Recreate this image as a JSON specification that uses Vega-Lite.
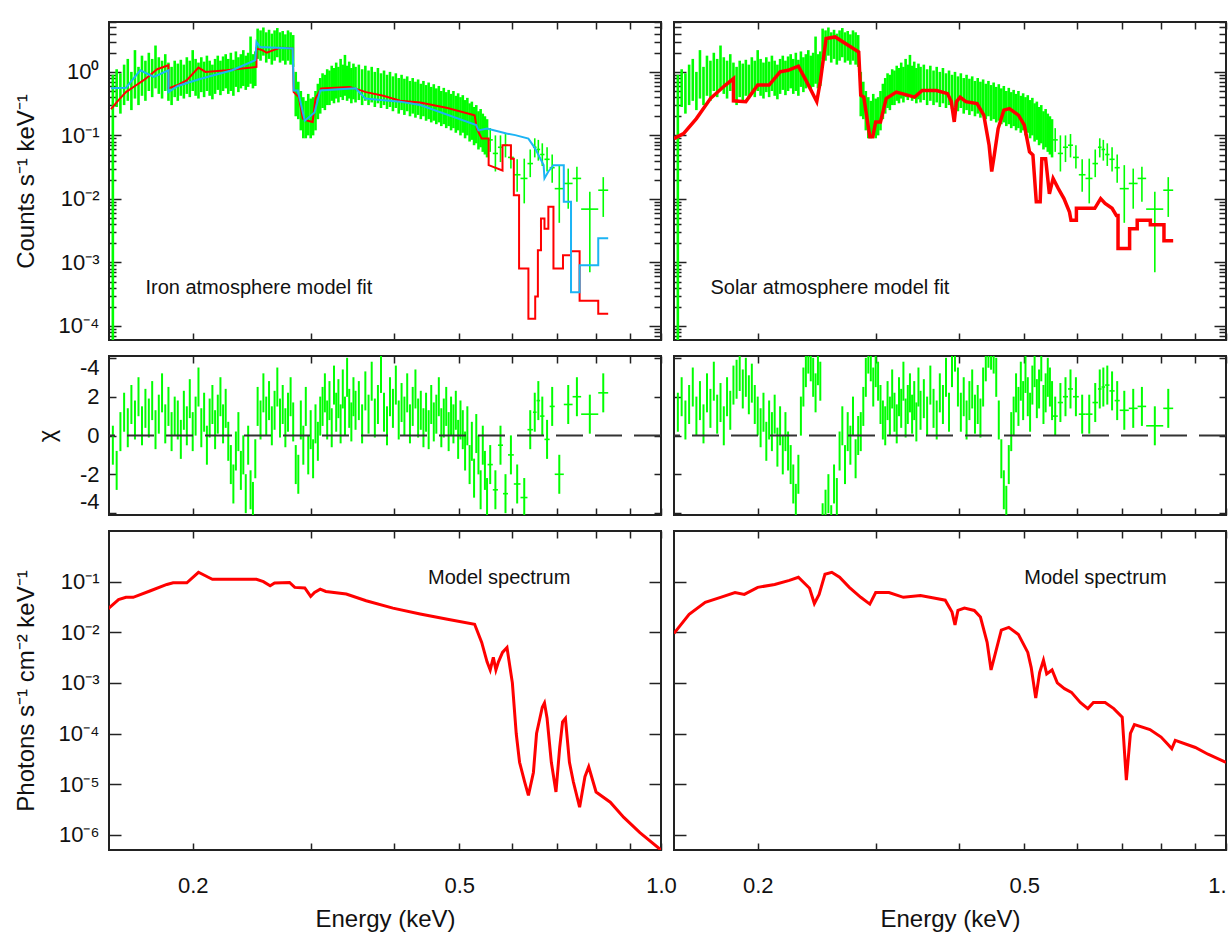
{
"$schema":"https://vega.github.io/schema/vega-lite/v6.json",
"background":"white",
"padding":{"left":13,"top":20,"right":4,"bottom":4},
"autosize":{"type":"pad"},
"columns":2,
"spacing":{"row":16,"column":13},
"bounds":"flush",
"config":{
 "view":{"stroke":"#222","strokeWidth":2},
 "axis":{"domain":false,"grid":false,"labelFont":"Liberation Sans","titleFont":"Liberation Sans","labelFontSize":22,"titleFontSize":24,"labelColor":"#111","titleColor":"#111","titleFontWeight":"normal","tickColor":"#222","tickWidth":1.5,"labelOverlap":false},
 "scale":{"zero":false},
 "text":{"font":"Liberation Sans"}
},
"datasets":{
"obs":[
{"e":0.152,"c":0.3,"lo":0.00005,"hi":0.9,"ri":-0.5,"rs":1.2},
{"e":0.154,"c":0.55,"lo":0.28,"hi":1.1,"ri":-1.8,"rs":2.0},
{"e":0.156,"c":0.48,"lo":0.22,"hi":0.95,"ri":0.2,"rs":0.8},
{"e":0.158,"c":0.62,"lo":0.3,"hi":1.3,"ri":1.2,"rs":1.6},
{"e":0.160,"c":0.7,"lo":0.35,"hi":1.6,"ri":0.4,"rs":2.5},
{"e":0.162,"c":0.52,"lo":0.25,"hi":1.0,"ri":1.6,"rs":1.0},
{"e":0.164,"c":0.75,"lo":0.38,"hi":2.2,"ri":0.8,"rs":1.8},
{"e":0.166,"c":0.6,"lo":0.3,"hi":1.2,"ri":2.0,"rs":0.6},
{"e":0.168,"c":0.85,"lo":0.42,"hi":1.8,"ri":0.5,"rs":2.2},
{"e":0.170,"c":0.7,"lo":0.35,"hi":1.5,"ri":1.4,"rs":1.4},
{"e":0.172,"c":0.95,"lo":0.5,"hi":2.0,"ri":0.9,"rs":2.8},
{"e":0.174,"c":0.8,"lo":0.4,"hi":1.6,"ri":1.8,"rs":1.1},
{"e":0.176,"c":1.0,"lo":0.55,"hi":2.6,"ri":0.3,"rs":1.7},
{"e":0.178,"c":0.85,"lo":0.45,"hi":1.7,"ri":1.1,"rs":0.5},
{"e":0.180,"c":0.75,"lo":0.38,"hi":1.5,"ri":2.2,"rs":2.0},
{"e":0.182,"c":0.95,"lo":0.5,"hi":1.9,"ri":0.6,"rs":1.3},
{"e":0.184,"c":0.7,"lo":0.35,"hi":1.4,"ri":1.5,"rs":2.6},
{"e":0.186,"c":0.6,"lo":0.3,"hi":1.2,"ri":0.2,"rs":2.9},
{"e":0.188,"c":0.75,"lo":0.4,"hi":1.5,"ri":1.0,"rs":3.3},
{"e":0.190,"c":0.68,"lo":0.35,"hi":1.35,"ri":0.8,"rs":2.4},
{"e":0.192,"c":0.8,"lo":0.42,"hi":1.55,"ri":-0.2,"rs":3.0},
{"e":0.194,"c":0.7,"lo":0.38,"hi":1.3,"ri":1.3,"rs":2.1},
{"e":0.196,"c":0.85,"lo":0.45,"hi":1.7,"ri":0.5,"rs":2.7},
{"e":0.198,"c":0.78,"lo":0.4,"hi":1.5,"ri":1.9,"rs":1.6},
{"e":0.200,"c":0.95,"lo":0.5,"hi":2.2,"ri":0.2,"rs":1.0},
{"e":0.202,"c":0.8,"lo":0.42,"hi":1.6,"ri":1.0,"rs":0.4},
{"e":0.204,"c":0.72,"lo":0.38,"hi":1.4,"ri":2.5,"rs":1.2},
{"e":0.206,"c":0.88,"lo":0.48,"hi":1.7,"ri":0.4,"rs":-0.3},
{"e":0.208,"c":0.75,"lo":0.4,"hi":1.45,"ri":1.2,"rs":0.8},
{"e":0.210,"c":0.9,"lo":0.5,"hi":1.8,"ri":-0.5,"rs":0.2},
{"e":0.212,"c":0.8,"lo":0.42,"hi":1.5,"ri":0.9,"rs":1.1},
{"e":0.214,"c":0.7,"lo":0.37,"hi":1.3,"ri":1.6,"rs":-0.6},
{"e":0.216,"c":0.85,"lo":0.45,"hi":1.6,"ri":0.3,"rs":0.5},
{"e":0.218,"c":0.95,"lo":0.52,"hi":1.8,"ri":1.1,"rs":-1.0},
{"e":0.220,"c":0.8,"lo":0.43,"hi":1.5,"ri":2.0,"rs":0.2},
{"e":0.222,"c":0.9,"lo":0.5,"hi":1.75,"ri":0.6,"rs":-0.8},
{"e":0.224,"c":1.0,"lo":0.55,"hi":1.9,"ri":1.4,"rs":-1.5},
{"e":0.226,"c":0.85,"lo":0.45,"hi":1.6,"ri":-0.3,"rs":-2.5},
{"e":0.228,"c":0.95,"lo":0.5,"hi":2.0,"ri":-1.5,"rs":-3.5},
{"e":0.230,"c":0.8,"lo":0.42,"hi":1.55,"ri":-2.5,"rs":-2.0},
{"e":0.232,"c":1.05,"lo":0.58,"hi":2.1,"ri":-0.8,"rs":1.0},
{"e":0.234,"c":0.9,"lo":0.48,"hi":1.7,"ri":0.2,"rs":2.5},
{"e":0.236,"c":1.0,"lo":0.55,"hi":1.9,"ri":-1.8,"rs":3.5},
{"e":0.238,"c":1.1,"lo":0.6,"hi":2.2,"ri":-1.0,"rs":4.2},
{"e":0.240,"c":0.95,"lo":0.52,"hi":1.8,"ri":-3.0,"rs":3.8},
{"e":0.242,"c":1.05,"lo":0.58,"hi":2.0,"ri":-0.5,"rs":3.0},
{"e":0.244,"c":1.2,"lo":0.65,"hi":3.6,"ri":-2.8,"rs":2.2},
{"e":0.246,"c":1.0,"lo":0.55,"hi":1.9,"ri":-3.4,"rs":3.6},
{"e":0.248,"c":1.1,"lo":0.6,"hi":2.1,"ri":-1.2,"rs":2.8},
{"e":0.250,"c":2.8,"lo":1.6,"hi":4.8,"ri":1.5,"rs":-4.5},
{"e":0.2525,"c":2.6,"lo":1.5,"hi":4.5,"ri":0.8,"rs":-3.8},
{"e":0.255,"c":3.0,"lo":1.8,"hi":5.0,"ri":2.2,"rs":-3.0},
{"e":0.2575,"c":2.5,"lo":1.4,"hi":4.2,"ri":1.0,"rs":-4.6},
{"e":0.26,"c":2.8,"lo":1.6,"hi":4.6,"ri":1.8,"rs":-2.5},
{"e":0.2625,"c":2.4,"lo":1.3,"hi":4.0,"ri":0.5,"rs":-3.2},
{"e":0.265,"c":2.7,"lo":1.5,"hi":4.5,"ri":1.3,"rs":-0.8},
{"e":0.2675,"c":3.0,"lo":1.7,"hi":4.9,"ri":2.5,"rs":0.5},
{"e":0.27,"c":2.5,"lo":1.4,"hi":4.2,"ri":0.9,"rs":-1.5},
{"e":0.2725,"c":2.6,"lo":1.5,"hi":4.4,"ri":1.6,"rs":0.2},
{"e":0.275,"c":2.3,"lo":1.3,"hi":3.9,"ri":0.4,"rs":-0.5},
{"e":0.2775,"c":2.7,"lo":1.5,"hi":4.5,"ri":1.2,"rs":1.0},
{"e":0.28,"c":2.4,"lo":1.3,"hi":4.2,"ri":2.0,"rs":-1.2},
{"e":0.2825,"c":2.2,"lo":1.2,"hi":3.8,"ri":0.7,"rs":0.0},
{"e":0.285,"c":0.45,"lo":0.2,"hi":1.0,"ri":-1.5,"rs":0.2},
{"e":0.2875,"c":0.35,"lo":0.18,"hi":0.7,"ri":-2.0,"rs":1.5},
{"e":0.29,"c":0.25,"lo":0.12,"hi":0.5,"ri":0.8,"rs":3.0},
{"e":0.2925,"c":0.2,"lo":0.09,"hi":0.4,"ri":-0.5,"rs":4.2},
{"e":0.295,"c":0.18,"lo":0.09,"hi":0.35,"ri":1.5,"rs":3.8},
{"e":0.2975,"c":0.22,"lo":0.1,"hi":0.45,"ri":-1.0,"rs":2.5},
{"e":0.30,"c":0.19,"lo":0.09,"hi":0.38,"ri":0.3,"rs":3.5},
{"e":0.3025,"c":0.2,"lo":0.1,"hi":0.4,"ri":-1.2,"rs":2.8},
{"e":0.305,"c":0.25,"lo":0.12,"hi":0.5,"ri":0.6,"rs":1.6},
{"e":0.3075,"c":0.35,"lo":0.18,"hi":0.65,"ri":-0.3,"rs":0.8},
{"e":0.31,"c":0.42,"lo":0.22,"hi":0.8,"ri":1.0,"rs":0.5},
{"e":0.3125,"c":0.5,"lo":0.27,"hi":0.95,"ri":1.5,"rs":1.8},
{"e":0.315,"c":0.48,"lo":0.25,"hi":0.9,"ri":2.2,"rs":1.0},
{"e":0.3175,"c":0.58,"lo":0.3,"hi":1.1,"ri":0.8,"rs":2.4},
{"e":0.32,"c":0.55,"lo":0.3,"hi":1.05,"ri":1.8,"rs":1.2},
{"e":0.3225,"c":0.65,"lo":0.35,"hi":1.25,"ri":0.4,"rs":0.6},
{"e":0.325,"c":0.6,"lo":0.32,"hi":1.15,"ri":2.6,"rs":2.0},
{"e":0.3275,"c":0.7,"lo":0.38,"hi":1.4,"ri":1.2,"rs":1.4},
{"e":0.33,"c":0.62,"lo":0.33,"hi":1.2,"ri":1.9,"rs":2.8},
{"e":0.3325,"c":0.75,"lo":0.4,"hi":1.6,"ri":0.6,"rs":0.9},
{"e":0.335,"c":0.68,"lo":0.36,"hi":1.3,"ri":2.4,"rs":1.6},
{"e":0.3375,"c":0.8,"lo":0.42,"hi":1.85,"ri":1.0,"rs":2.2},
{"e":0.34,"c":0.65,"lo":0.35,"hi":1.25,"ri":3.0,"rs":1.1},
{"e":0.3425,"c":0.72,"lo":0.38,"hi":1.45,"ri":1.4,"rs":1.8},
{"e":0.345,"c":0.6,"lo":0.32,"hi":1.15,"ri":0.7,"rs":0.7},
{"e":0.3475,"c":0.7,"lo":0.37,"hi":1.35,"ri":2.0,"rs":2.5},
{"e":0.35,"c":0.62,"lo":0.33,"hi":1.2,"ri":1.3,"rs":1.3},
{"e":0.354,"c":0.68,"lo":0.36,"hi":1.3,"ri":1.8,"rs":1.9},
{"e":0.358,"c":0.58,"lo":0.3,"hi":1.1,"ri":0.6,"rs":1.0},
{"e":0.362,"c":0.65,"lo":0.35,"hi":1.25,"ri":2.3,"rs":2.6},
{"e":0.366,"c":0.55,"lo":0.3,"hi":1.05,"ri":1.1,"rs":1.4},
{"e":0.370,"c":0.62,"lo":0.33,"hi":1.2,"ri":2.8,"rs":0.8},
{"e":0.374,"c":0.52,"lo":0.28,"hi":1.0,"ri":0.9,"rs":2.2},
{"e":0.378,"c":0.6,"lo":0.32,"hi":1.15,"ri":1.6,"rs":1.6},
{"e":0.382,"c":0.5,"lo":0.27,"hi":0.95,"ri":3.2,"rs":3.0},
{"e":0.386,"c":0.56,"lo":0.3,"hi":1.05,"ri":1.2,"rs":1.2},
{"e":0.390,"c":0.48,"lo":0.26,"hi":0.9,"ri":0.5,"rs":3.5},
{"e":0.394,"c":0.53,"lo":0.28,"hi":1.0,"ri":2.0,"rs":4.3},
{"e":0.398,"c":0.45,"lo":0.24,"hi":0.85,"ri":1.4,"rs":2.5},
{"e":0.402,"c":0.5,"lo":0.27,"hi":0.95,"ri":2.6,"rs":1.2},
{"e":0.406,"c":0.42,"lo":0.22,"hi":0.8,"ri":0.8,"rs":2.0},
{"e":0.410,"c":0.48,"lo":0.25,"hi":0.9,"ri":1.7,"rs":0.8},
{"e":0.414,"c":0.4,"lo":0.21,"hi":0.78,"ri":1.0,"rs":1.8},
{"e":0.418,"c":0.45,"lo":0.24,"hi":0.85,"ri":2.2,"rs":2.4},
{"e":0.422,"c":0.38,"lo":0.2,"hi":0.72,"ri":0.6,"rs":1.1},
{"e":0.426,"c":0.42,"lo":0.22,"hi":0.8,"ri":1.5,"rs":1.6},
{"e":0.430,"c":0.36,"lo":0.19,"hi":0.7,"ri":2.4,"rs":0.9},
{"e":0.434,"c":0.4,"lo":0.21,"hi":0.76,"ri":0.9,"rs":2.5},
{"e":0.438,"c":0.34,"lo":0.18,"hi":0.65,"ri":1.3,"rs":3.8},
{"e":0.442,"c":0.38,"lo":0.2,"hi":0.72,"ri":0.4,"rs":4.5},
{"e":0.446,"c":0.32,"lo":0.17,"hi":0.62,"ri":1.2,"rs":4.4},
{"e":0.450,"c":0.35,"lo":0.18,"hi":0.68,"ri":0.3,"rs":4.2},
{"e":0.454,"c":0.3,"lo":0.16,"hi":0.58,"ri":1.6,"rs":3.0},
{"e":0.458,"c":0.33,"lo":0.17,"hi":0.64,"ri":0.7,"rs":0.8},
{"e":0.462,"c":0.28,"lo":0.15,"hi":0.55,"ri":1.1,"rs":-1.2},
{"e":0.466,"c":0.31,"lo":0.16,"hi":0.6,"ri":2.0,"rs":-2.8},
{"e":0.470,"c":0.26,"lo":0.14,"hi":0.5,"ri":0.4,"rs":-3.6},
{"e":0.474,"c":0.29,"lo":0.15,"hi":0.56,"ri":0.9,"rs":-1.5},
{"e":0.478,"c":0.25,"lo":0.13,"hi":0.48,"ri":1.5,"rs":0.2},
{"e":0.482,"c":0.27,"lo":0.14,"hi":0.52,"ri":0.2,"rs":1.0},
{"e":0.486,"c":0.23,"lo":0.12,"hi":0.45,"ri":1.0,"rs":2.2},
{"e":0.490,"c":0.26,"lo":0.13,"hi":0.5,"ri":0.6,"rs":1.5},
{"e":0.494,"c":0.21,"lo":0.11,"hi":0.42,"ri":1.3,"rs":2.8},
{"e":0.498,"c":0.24,"lo":0.12,"hi":0.46,"ri":-0.2,"rs":1.8},
{"e":0.502,"c":0.2,"lo":0.1,"hi":0.4,"ri":0.8,"rs":3.2},
{"e":0.506,"c":0.22,"lo":0.11,"hi":0.43,"ri":0.3,"rs":2.0},
{"e":0.510,"c":0.18,"lo":0.09,"hi":0.36,"ri":-0.8,"rs":1.2},
{"e":0.514,"c":0.2,"lo":0.1,"hi":0.39,"ri":0.5,"rs":2.6},
{"e":0.518,"c":0.16,"lo":0.08,"hi":0.32,"ri":-1.5,"rs":3.5},
{"e":0.522,"c":0.17,"lo":0.085,"hi":0.34,"ri":-0.3,"rs":1.9},
{"e":0.526,"c":0.14,"lo":0.07,"hi":0.28,"ri":-2.2,"rs":2.4},
{"e":0.530,"c":0.15,"lo":0.075,"hi":0.3,"ri":0.1,"rs":3.8},
{"e":0.534,"c":0.12,"lo":0.06,"hi":0.24,"ri":-1.0,"rs":1.6},
{"e":0.538,"c":0.13,"lo":0.065,"hi":0.26,"ri":-2.8,"rs":2.2},
{"e":0.542,"c":0.11,"lo":0.055,"hi":0.22,"ri":-0.5,"rs":3.0},
{"e":0.546,"c":0.1,"lo":0.05,"hi":0.2,"ri":-1.8,"rs":2.5},
{"e":0.550,"c":0.09,"lo":0.045,"hi":0.18,"ri":-3.2,"rs":1.8},
{"e":0.556,"e0":0.551,"e1":0.561,"c":0.085,"lo":0.055,"hi":0.13,"ri":-1.5,"rs":1.0},
{"e":0.566,"e0":0.561,"e1":0.571,"c":0.052,"lo":0.027,"hi":0.10,"ri":-2.8,"rs":1.7},
{"e":0.576,"e0":0.571,"e1":0.581,"c":0.065,"lo":0.038,"hi":0.10,"ri":-0.5,"rs":2.0},
{"e":0.586,"e0":0.581,"e1":0.591,"c":0.07,"lo":0.045,"hi":0.105,"ri":-3.0,"rs":2.4},
{"e":0.597,"e0":0.591,"e1":0.603,"c":0.045,"lo":0.03,"hi":0.07,"ri":-1.0,"rs":2.0},
{"e":0.610,"e0":0.603,"e1":0.617,"c":0.024,"lo":0.013,"hi":0.042,"ri":-2.5,"rs":1.1},
{"e":0.625,"e0":0.617,"e1":0.632,"c":0.021,"lo":0.0085,"hi":0.043,"ri":-3.2,"rs":1.1},
{"e":0.638,"e0":0.632,"e1":0.644,"c":0.036,"lo":0.022,"hi":0.06,"ri":0.3,"rs":1.7},
{"e":0.648,"e0":0.644,"e1":0.652,"c":0.065,"lo":0.045,"hi":0.09,"ri":1.2,"rs":2.4},
{"e":0.656,"e0":0.652,"e1":0.660,"c":0.06,"lo":0.04,"hi":0.085,"ri":1.8,"rs":2.5},
{"e":0.665,"e0":0.660,"e1":0.670,"c":0.05,"lo":0.033,"hi":0.075,"ri":1.0,"rs":2.6},
{"e":0.676,"e0":0.670,"e1":0.682,"c":0.042,"lo":0.027,"hi":0.065,"ri":-0.2,"rs":2.3},
{"e":0.688,"e0":0.682,"e1":0.694,"c":0.031,"lo":0.018,"hi":0.05,"ri":1.5,"rs":1.8},
{"e":0.705,"e0":0.694,"e1":0.716,"c":0.0145,"lo":0.0042,"hi":0.034,"ri":-2.0,"rs":1.3},
{"e":0.727,"e0":0.716,"e1":0.738,"c":0.0175,"lo":0.007,"hi":0.03,"ri":1.6,"rs":1.4},
{"e":0.749,"e0":0.738,"e1":0.760,"c":0.021,"lo":0.009,"hi":0.032,"ri":2.0,"rs":1.5},
{"e":0.783,"e0":0.760,"e1":0.806,"c":0.0069,"lo":0.0007,"hi":0.0129,"ri":1.1,"rs":0.5},
{"e":0.820,"e0":0.806,"e1":0.834,"c":0.0137,"lo":0.0052,"hi":0.022,"ri":2.2,"rs":1.4}
],
"fe":[
{"e":0.151,"v":0.26},{"e":0.155,"v":0.36},{"e":0.159,"v":0.48},{"e":0.164,"v":0.6},{"e":0.169,"v":0.74},{"e":0.173,"v":0.9},{"e":0.177,"v":1.1},{"e":0.184,"v":1.27},{"e":0.184,"v":0.55},{"e":0.19,"v":0.62},{"e":0.196,"v":0.74},{"e":0.204,"v":1.17},{"e":0.209,"v":1.0},{"e":0.225,"v":1.06},{"e":0.249,"v":1.2},{"e":0.249,"v":2.33},{"e":0.254,"v":2.2},{"e":0.258,"v":2.0},{"e":0.264,"v":2.2},{"e":0.27,"v":2.4},{"e":0.282,"v":2.33},{"e":0.283,"v":0.48},{"e":0.288,"v":0.4},{"e":0.292,"v":0.184},{"e":0.297,"v":0.17},{"e":0.302,"v":0.163},{"e":0.305,"v":0.38},{"e":0.311,"v":0.55},{"e":0.343,"v":0.58},{"e":0.363,"v":0.48},{"e":0.385,"v":0.42},{"e":0.408,"v":0.35},{"e":0.437,"v":0.33},{"e":0.48,"v":0.27},{"e":0.527,"v":0.208},{"e":0.531,"v":0.128},{"e":0.54,"v":0.089},{"e":0.553,"v":0.089},{"e":0.553,"v":0.034},{"e":0.58,"v":0.028},{"e":0.58,"v":0.07},{"e":0.597,"v":0.07},{"e":0.597,"v":0.043},{"e":0.603,"v":0.043},{"e":0.603,"v":0.0114},{"e":0.614,"v":0.0114},{"e":0.614,"v":0.0008},{"e":0.634,"v":0.0008},{"e":0.634,"v":0.00013},{"e":0.649,"v":0.00013},{"e":0.649,"v":0.00029},{"e":0.655,"v":0.00029},{"e":0.655,"v":0.00156},{"e":0.662,"v":0.00156},{"e":0.662,"v":0.0049},{"e":0.67,"v":0.0049},{"e":0.67,"v":0.0034},{"e":0.679,"v":0.0034},{"e":0.679,"v":0.0075},{"e":0.691,"v":0.0075},{"e":0.691,"v":0.0008},{"e":0.714,"v":0.0008},{"e":0.714,"v":0.0013},{"e":0.734,"v":0.0013},{"e":0.734,"v":0.0015},{"e":0.756,"v":0.0015},{"e":0.756,"v":0.00025},{"e":0.806,"v":0.00025},{"e":0.806,"v":0.000156},{"e":0.834,"v":0.000156}
],
"fe2":[
{"e":0.151,"v":0.55},{"e":0.159,"v":0.56},{"e":0.167,"v":1.06},{"e":0.175,"v":0.83},{"e":0.184,"v":1.06},{"e":0.184,"v":0.48},{"e":0.19,"v":0.6},{"e":0.205,"v":0.77},{"e":0.229,"v":1.06},{"e":0.248,"v":1.53},{"e":0.249,"v":2.97},{"e":0.252,"v":2.47},{"e":0.282,"v":2.33},{"e":0.283,"v":0.51},{"e":0.287,"v":0.51},{"e":0.294,"v":0.17},{"e":0.304,"v":0.23},{"e":0.31,"v":0.51},{"e":0.35,"v":0.55},{"e":0.362,"v":0.38},{"e":0.408,"v":0.34},{"e":0.437,"v":0.3},{"e":0.53,"v":0.145},{"e":0.534,"v":0.12},{"e":0.55,"v":0.128},{"e":0.588,"v":0.107},{"e":0.606,"v":0.101},{"e":0.634,"v":0.089},{"e":0.649,"v":0.062},{"e":0.668,"v":0.034},{"e":0.67,"v":0.021},{"e":0.679,"v":0.027},{"e":0.691,"v":0.034},{"e":0.716,"v":0.034},{"e":0.716,"v":0.009},{"e":0.734,"v":0.009},{"e":0.734,"v":0.00034},{"e":0.756,"v":0.00034},{"e":0.756,"v":0.0009},{"e":0.806,"v":0.0009},{"e":0.806,"v":0.0024},{"e":0.834,"v":0.0024}
],
"sun":[
{"e":0.150,"v":0.089},{"e":0.155,"v":0.107},{"e":0.162,"v":0.184},{"e":0.170,"v":0.38},{"e":0.179,"v":0.62},{"e":0.184,"v":0.785},{"e":0.184,"v":0.35},{"e":0.192,"v":0.34},{"e":0.2,"v":0.62},{"e":0.208,"v":0.62},{"e":0.216,"v":1.0},{"e":0.222,"v":1.06},{"e":0.23,"v":1.23},{"e":0.236,"v":0.74},{"e":0.245,"v":0.34},{"e":0.248,"v":0.70},{"e":0.253,"v":3.35},{"e":0.261,"v":3.55},{"e":0.283,"v":2.06},{"e":0.285,"v":0.43},{"e":0.288,"v":0.4},{"e":0.294,"v":0.095},{"e":0.297,"v":0.095},{"e":0.3,"v":0.163},{"e":0.305,"v":0.163},{"e":0.311,"v":0.38},{"e":0.322,"v":0.48},{"e":0.343,"v":0.40},{"e":0.352,"v":0.51},{"e":0.37,"v":0.51},{"e":0.384,"v":0.455},{"e":0.389,"v":0.34},{"e":0.393,"v":0.163},{"e":0.396,"v":0.34},{"e":0.401,"v":0.4},{"e":0.409,"v":0.34},{"e":0.425,"v":0.317},{"e":0.435,"v":0.208},{"e":0.443,"v":0.07},{"e":0.447,"v":0.027},{"e":0.451,"v":0.049},{"e":0.457,"v":0.128},{"e":0.466,"v":0.25},{"e":0.475,"v":0.264},{"e":0.49,"v":0.208},{"e":0.5,"v":0.145},{"e":0.509,"v":0.055},{"e":0.515,"v":0.049},{"e":0.521,"v":0.009},{"e":0.528,"v":0.009},{"e":0.531,"v":0.043},{"e":0.538,"v":0.043},{"e":0.545,"v":0.012},{"e":0.552,"v":0.021},{"e":0.562,"v":0.0145},{"e":0.573,"v":0.0101},{"e":0.584,"v":0.0062},{"e":0.587,"v":0.0046},{"e":0.598,"v":0.0046},{"e":0.598,"v":0.0071},{"e":0.637,"v":0.0071},{"e":0.65,"v":0.0101},{"e":0.66,"v":0.0085},{"e":0.676,"v":0.0071},{"e":0.686,"v":0.0055},{"e":0.69,"v":0.0055},{"e":0.69,"v":0.00165},{"e":0.718,"v":0.00165},{"e":0.718,"v":0.0034},{"e":0.737,"v":0.0034},{"e":0.737,"v":0.0046},{"e":0.771,"v":0.0046},{"e":0.771,"v":0.0039},{"e":0.808,"v":0.0039},{"e":0.808,"v":0.0022},{"e":0.834,"v":0.0022}
],
"mfe":[
{"e":0.149,"v":0.028},{"e":0.155,"v":0.044},{"e":0.159,"v":0.049},{"e":0.163,"v":0.049},{"e":0.173,"v":0.066},{"e":0.183,"v":0.088},{"e":0.187,"v":0.095},{"e":0.196,"v":0.095},{"e":0.204,"v":0.153},{"e":0.211,"v":0.122},{"e":0.214,"v":0.111},{"e":0.249,"v":0.111},{"e":0.255,"v":0.1},{"e":0.261,"v":0.083},{"e":0.265,"v":0.094},{"e":0.279,"v":0.096},{"e":0.284,"v":0.077},{"e":0.294,"v":0.075},{"e":0.3,"v":0.051},{"e":0.304,"v":0.061},{"e":0.31,"v":0.071},{"e":0.316,"v":0.064},{"e":0.339,"v":0.057},{"e":0.363,"v":0.042},{"e":0.398,"v":0.030},{"e":0.437,"v":0.023},{"e":0.48,"v":0.018},{"e":0.527,"v":0.0144},{"e":0.54,"v":0.0063},{"e":0.55,"v":0.0026},{"e":0.556,"v":0.0018},{"e":0.562,"v":0.0032},{"e":0.567,"v":0.0018},{"e":0.572,"v":0.0026},{"e":0.58,"v":0.004},{"e":0.589,"v":0.005},{"e":0.6,"v":0.001},{"e":0.608,"v":0.0001},{"e":0.615,"v":0.000027},{"e":0.626,"v":0.000011},{"e":0.634,"v":0.000006},{"e":0.645,"v":0.000017},{"e":0.652,"v":0.0001},{"e":0.665,"v":0.00033},{"e":0.67,"v":0.0004},{"e":0.676,"v":0.0002},{"e":0.686,"v":0.000027},{"e":0.697,"v":0.000007},{"e":0.706,"v":0.000053},{"e":0.713,"v":0.00017},{"e":0.72,"v":0.0002},{"e":0.73,"v":0.000027},{"e":0.74,"v":0.000011},{"e":0.756,"v":0.0000035},{"e":0.77,"v":0.000014},{"e":0.78,"v":0.000022},{"e":0.8,"v":0.000007},{"e":0.84,"v":0.0000044},{"e":0.88,"v":0.0000022},{"e":0.93,"v":0.0000011},{"e":1.0,"v":0.0000005}
],
"msun":[
{"e":0.150,"v":0.0095},{"e":0.158,"v":0.0225},{"e":0.167,"v":0.039},{"e":0.176,"v":0.049},{"e":0.185,"v":0.061},{"e":0.191,"v":0.056},{"e":0.2,"v":0.077},{"e":0.212,"v":0.088},{"e":0.223,"v":0.106},{"e":0.23,"v":0.122},{"e":0.239,"v":0.074},{"e":0.243,"v":0.037},{"e":0.247,"v":0.056},{"e":0.252,"v":0.14},{"e":0.258,"v":0.153},{"e":0.265,"v":0.122},{"e":0.274,"v":0.077},{"e":0.285,"v":0.049},{"e":0.294,"v":0.036},{"e":0.3,"v":0.061},{"e":0.314,"v":0.061},{"e":0.33,"v":0.049},{"e":0.35,"v":0.053},{"e":0.368,"v":0.047},{"e":0.381,"v":0.043},{"e":0.39,"v":0.025},{"e":0.394,"v":0.014},{"e":0.398,"v":0.027},{"e":0.407,"v":0.03},{"e":0.421,"v":0.027},{"e":0.43,"v":0.02},{"e":0.44,"v":0.0063},{"e":0.446,"v":0.0018},{"e":0.453,"v":0.004},{"e":0.462,"v":0.011},{"e":0.474,"v":0.0125},{"e":0.49,"v":0.009},{"e":0.506,"v":0.004},{"e":0.512,"v":0.002},{"e":0.52,"v":0.0005},{"e":0.527,"v":0.0016},{"e":0.534,"v":0.0028},{"e":0.54,"v":0.0015},{"e":0.55,"v":0.0018},{"e":0.56,"v":0.001},{"e":0.574,"v":0.00077},{"e":0.588,"v":0.00065},{"e":0.606,"v":0.00041},{"e":0.622,"v":0.00031},{"e":0.634,"v":0.00041},{"e":0.66,"v":0.00041},{"e":0.68,"v":0.00031},{"e":0.7,"v":0.00021},{"e":0.71,"v":0.000012},{"e":0.72,"v":0.0001},{"e":0.73,"v":0.00015},{"e":0.77,"v":0.00012},{"e":0.8,"v":0.000085},{"e":0.82,"v":0.00006},{"e":0.83,"v":0.00005},{"e":0.84,"v":0.000073},{"e":0.9,"v":0.000053},{"e":0.94,"v":0.000039},{"e":1.0,"v":0.000027}
]
},
"concat":[
{
 "width":552,"height":318,
 "layer":[
  {"data":{"name":"obs"},"mark":{"type":"rule","color":"#00ff00","clip":true},
   "encoding":{
    "x":{"field":"e","type":"quantitative","scale":{"type":"log","domain":[0.15,1],"nice":false},"axis":{"values":[0.2,0.3,0.4,0.5,0.6,0.7,0.8,0.9,1],"labels":false,"tickSize":-7,"title":null}},
    "y":{"field":"lo","type":"quantitative","scale":{"type":"log","domain":[0.00006,6.1],"nice":false},"axis":{"values":[0.00007,0.00008,0.00009,0.0001,0.0002,0.0003,0.0004,0.0005,0.0006,0.0007,0.0008,0.0009,0.001,0.002,0.003,0.004,0.005,0.006,0.007,0.008,0.009,0.01,0.02,0.03,0.04,0.05,0.06,0.07,0.08,0.09,0.1,0.2,0.3,0.4,0.5,0.6,0.7,0.8,0.9,1,2,3,4,5,6],"labelExpr":"datum.value == 1 ? '10⁰' : datum.value == 0.1 ? '10⁻¹' : datum.value == 0.01 ? '10⁻²' : datum.value == 0.001 ? '10⁻³' : datum.value == 0.0001 ? '10⁻⁴' : ''","labelFontSize":{"condition":{"test":"indexof([1,0.1,0.01,0.001,0.0001], datum.value) >= 0","value":22},"value":0},"tickSize":{"condition":{"test":"indexof([1,0.1,0.01,0.001,0.0001], datum.value) >= 0","value":-12},"value":-7},"labelPadding":22,"title":"Counts s⁻¹ keV⁻¹","titlePadding":20}},
    "y2":{"field":"hi"},
    "strokeWidth":{"condition":{"test":"isValid(datum.e0)","value":1.6},"value":2.6}}},
  {"data":{"name":"obs"},"transform":[{"filter":"isValid(datum.e0)"}],"mark":{"type":"rule","color":"#00ff00","strokeWidth":1.6,"clip":true},
   "encoding":{"x":{"field":"e0","type":"quantitative","axis":null},"x2":{"field":"e1"},"y":{"field":"c","type":"quantitative","axis":null}}},
  {"data":{"name":"fe"},"mark":{"type":"line","color":"#ff0000","strokeWidth":2,"clip":true},
   "encoding":{"x":{"field":"e","type":"quantitative","axis":null},"y":{"field":"v","type":"quantitative","axis":null}}},
  {"data":{"name":"fe2"},"mark":{"type":"line","color":"#1cb4f4","strokeWidth":2,"clip":true},
   "encoding":{"x":{"field":"e","type":"quantitative","axis":null},"y":{"field":"v","type":"quantitative","axis":null}}},
  {"data":{"values":[{"e":0.17,"v":0.0004,"t":"Iron atmosphere model fit"}]},"mark":{"type":"text","align":"left","baseline":"middle","fontSize":20,"color":"#111"},
   "encoding":{"x":{"field":"e","type":"quantitative","axis":null},"y":{"field":"v","type":"quantitative","axis":null},"text":{"field":"t"}}},
  {"data":{"name":"obs"},"mark":{"type":"point","opacity":0},
   "encoding":{"x":{"field":"e","type":"quantitative","axis":{"orient":"top","values":[0.2,0.3,0.4,0.5,0.6,0.7,0.8,0.9,1],"labels":false,"tickSize":-7,"title":null}},"y":{"field":"c","type":"quantitative","axis":{"orient":"right","values":[0.00007,0.00008,0.00009,0.0001,0.0002,0.0003,0.0004,0.0005,0.0006,0.0007,0.0008,0.0009,0.001,0.002,0.003,0.004,0.005,0.006,0.007,0.008,0.009,0.01,0.02,0.03,0.04,0.05,0.06,0.07,0.08,0.09,0.1,0.2,0.3,0.4,0.5,0.6,0.7,0.8,0.9,1,2,3,4,5,6],"labels":false,"tickSize":{"condition":{"test":"indexof([1,0.1,0.01,0.001,0.0001], datum.value) >= 0","value":-12},"value":-7},"title":null}}}}
 ],
 "resolve":{"axis":{"x":"independent","y":"independent"}}
},
{
 "width":552,"height":318,
 "layer":[
  {"data":{"name":"obs"},"mark":{"type":"rule","color":"#00ff00","clip":true},
   "encoding":{
    "x":{"field":"e","type":"quantitative","scale":{"type":"log","domain":[0.15,1],"nice":false},"axis":{"values":[0.2,0.3,0.4,0.5,0.6,0.7,0.8,0.9,1],"labels":false,"tickSize":-7,"title":null}},
    "y":{"field":"lo","type":"quantitative","scale":{"type":"log","domain":[0.00006,6.1],"nice":false},"axis":{"values":[0.00007,0.00008,0.00009,0.0001,0.0002,0.0003,0.0004,0.0005,0.0006,0.0007,0.0008,0.0009,0.001,0.002,0.003,0.004,0.005,0.006,0.007,0.008,0.009,0.01,0.02,0.03,0.04,0.05,0.06,0.07,0.08,0.09,0.1,0.2,0.3,0.4,0.5,0.6,0.7,0.8,0.9,1,2,3,4,5,6],"labels":false,"tickSize":{"condition":{"test":"indexof([1,0.1,0.01,0.001,0.0001], datum.value) >= 0","value":-12},"value":-7},"title":null}},
    "y2":{"field":"hi"},
    "strokeWidth":{"condition":{"test":"isValid(datum.e0)","value":1.6},"value":2.6}}},
  {"data":{"name":"obs"},"transform":[{"filter":"isValid(datum.e0)"}],"mark":{"type":"rule","color":"#00ff00","strokeWidth":1.6,"clip":true},
   "encoding":{"x":{"field":"e0","type":"quantitative","axis":null},"x2":{"field":"e1"},"y":{"field":"c","type":"quantitative","axis":null}}},
  {"data":{"name":"sun"},"mark":{"type":"line","color":"#ff0000","strokeWidth":3.5,"clip":true},
   "encoding":{"x":{"field":"e","type":"quantitative","axis":null},"y":{"field":"v","type":"quantitative","axis":null}}},
  {"data":{"values":[{"e":0.17,"v":0.0004,"t":"Solar atmosphere model fit"}]},"mark":{"type":"text","align":"left","baseline":"middle","fontSize":20,"color":"#111"},
   "encoding":{"x":{"field":"e","type":"quantitative","axis":null},"y":{"field":"v","type":"quantitative","axis":null},"text":{"field":"t"}}},
  {"data":{"name":"obs"},"mark":{"type":"point","opacity":0},
   "encoding":{"x":{"field":"e","type":"quantitative","axis":{"orient":"top","values":[0.2,0.3,0.4,0.5,0.6,0.7,0.8,0.9,1],"labels":false,"tickSize":-7,"title":null}},"y":{"field":"c","type":"quantitative","axis":{"orient":"right","values":[0.00007,0.00008,0.00009,0.0001,0.0002,0.0003,0.0004,0.0005,0.0006,0.0007,0.0008,0.0009,0.001,0.002,0.003,0.004,0.005,0.006,0.007,0.008,0.009,0.01,0.02,0.03,0.04,0.05,0.06,0.07,0.08,0.09,0.1,0.2,0.3,0.4,0.5,0.6,0.7,0.8,0.9,1,2,3,4,5,6],"labels":false,"tickSize":{"condition":{"test":"indexof([1,0.1,0.01,0.001,0.0001], datum.value) >= 0","value":-12},"value":-7},"title":null}}}}
 ],
 "resolve":{"axis":{"x":"independent","y":"independent"}}
},
{
 "width":552,"height":159,
 "layer":[
  {"data":{"name":"obs"},"mark":{"type":"tick","orient":"vertical","size":39,"thickness":2,"color":"#00ff00","opacity":1,"clip":true},
   "encoding":{
    "x":{"field":"e","type":"quantitative","scale":{"type":"log","domain":[0.15,1],"nice":false},"axis":{"values":[0.2,0.3,0.4,0.5,0.6,0.7,0.8,0.9,1],"labels":false,"tickSize":-7,"title":null}},
    "y":{"field":"ri","type":"quantitative","scale":{"domain":[-4.1,4.1],"nice":false,"zero":false},"axis":{"values":[-4,-2,0,2,4],"labelExpr":"datum.value == 0 ? '0' : datum.value == 2 ? '2' : '-' + abs(datum.value)","labelFlush":4,"tickSize":-7,"labelPadding":17,"title":"χ","titlePadding":20}}}},
  {"data":{"name":"obs"},"transform":[{"filter":"isValid(datum.e0)"}],"mark":{"type":"rule","color":"#00ff00","strokeWidth":1.6,"clip":true},
   "encoding":{"x":{"field":"e0","type":"quantitative","axis":null},"x2":{"field":"e1"},"y":{"field":"ri","type":"quantitative","axis":null}}},
  {"data":{"values":[{"r":0}]},"mark":{"type":"rule","color":"#333","strokeWidth":2,"strokeDash":[27,12]},
   "encoding":{"y":{"field":"r","type":"quantitative","axis":null}}},
  {"data":{"name":"obs"},"mark":{"type":"point","opacity":0},
   "encoding":{"x":{"field":"e","type":"quantitative","axis":{"orient":"top","values":[0.2,0.3,0.4,0.5,0.6,0.7,0.8,0.9,1],"labels":false,"tickSize":-7,"title":null}},"y":{"field":"ri","type":"quantitative","axis":{"orient":"right","values":[-4,-2,0,2,4],"labels":false,"tickSize":-7,"title":null}}}}
 ],
 "resolve":{"axis":{"x":"independent","y":"independent"}}
},
{
 "width":552,"height":159,
 "layer":[
  {"data":{"name":"obs"},"mark":{"type":"tick","orient":"vertical","size":39,"thickness":2,"color":"#00ff00","opacity":1,"clip":true},
   "encoding":{
    "x":{"field":"e","type":"quantitative","scale":{"type":"log","domain":[0.15,1],"nice":false},"axis":{"values":[0.2,0.3,0.4,0.5,0.6,0.7,0.8,0.9,1],"labels":false,"tickSize":-7,"title":null}},
    "y":{"field":"rs","type":"quantitative","scale":{"domain":[-4.1,4.1],"nice":false,"zero":false},"axis":{"values":[-4,-2,0,2,4],"labels":false,"tickSize":-7,"title":null}}}},
  {"data":{"name":"obs"},"transform":[{"filter":"isValid(datum.e0)"}],"mark":{"type":"rule","color":"#00ff00","strokeWidth":1.6,"clip":true},
   "encoding":{"x":{"field":"e0","type":"quantitative","axis":null},"x2":{"field":"e1"},"y":{"field":"rs","type":"quantitative","axis":null}}},
  {"data":{"values":[{"r":0}]},"mark":{"type":"rule","color":"#333","strokeWidth":2,"strokeDash":[27,12]},
   "encoding":{"y":{"field":"r","type":"quantitative","axis":null}}},
  {"data":{"name":"obs"},"mark":{"type":"point","opacity":0},
   "encoding":{"x":{"field":"e","type":"quantitative","axis":{"orient":"top","values":[0.2,0.3,0.4,0.5,0.6,0.7,0.8,0.9,1],"labels":false,"tickSize":-7,"title":null}},"y":{"field":"rs","type":"quantitative","axis":{"orient":"right","values":[-4,-2,0,2,4],"labels":false,"tickSize":-7,"title":null}}}}
 ],
 "resolve":{"axis":{"x":"independent","y":"independent"}}
},
{
 "width":552,"height":319,
 "layer":[
  {"data":{"name":"mfe"},"mark":{"type":"line","color":"#ff0000","strokeWidth":3,"clip":true},
   "encoding":{
    "x":{"field":"e","type":"quantitative","scale":{"type":"log","domain":[0.15,1],"nice":false},"axis":{"values":[0.2,0.3,0.4,0.5,0.6,0.7,0.8,0.9,1],"labelExpr":"datum.value == 0.2 ? '0.2' : datum.value == 0.5 ? '0.5' : datum.value == 1 ? '1.0' : ''","labelFlush":false,"tickSize":-7,"labelPadding":32,"title":"Energy (keV)","titlePadding":11}},
    "y":{"field":"v","type":"quantitative","scale":{"type":"log","domain":[0.0000005,1],"nice":false},"axis":{"values":[0.000001,0.00001,0.0001,0.001,0.01,0.1],"labelExpr":"datum.value == 0.1 ? '10⁻¹' : datum.value == 0.01 ? '10⁻²' : datum.value == 0.001 ? '10⁻³' : datum.value == 0.0001 ? '10⁻⁴' : datum.value == 0.00001 ? '10⁻⁵' : datum.value == 0.000001 ? '10⁻⁶' : ''","tickSize":-12,"labelPadding":22,"title":"Photons s⁻¹ cm⁻² keV⁻¹","titlePadding":20}}}},
  {"data":{"values":[{"e":0.449,"v":0.12,"t":"Model spectrum"}]},"mark":{"type":"text","align":"left","baseline":"middle","fontSize":20,"color":"#111"},
   "encoding":{"x":{"field":"e","type":"quantitative","axis":null},"y":{"field":"v","type":"quantitative","axis":null},"text":{"field":"t"}}},
  {"data":{"name":"mfe"},"mark":{"type":"point","opacity":0},
   "encoding":{"x":{"field":"e","type":"quantitative","axis":{"orient":"top","values":[0.2,0.3,0.4,0.5,0.6,0.7,0.8,0.9,1],"labels":false,"tickSize":-7,"title":null}},"y":{"field":"v","type":"quantitative","axis":{"orient":"right","values":[0.000001,0.00001,0.0001,0.001,0.01,0.1],"labels":false,"tickSize":-12,"title":null}}}}
 ],
 "resolve":{"axis":{"x":"independent","y":"independent"}}
},
{
 "width":552,"height":319,
 "layer":[
  {"data":{"name":"msun"},"mark":{"type":"line","color":"#ff0000","strokeWidth":3,"clip":true},
   "encoding":{
    "x":{"field":"e","type":"quantitative","scale":{"type":"log","domain":[0.15,1],"nice":false},"axis":{"values":[0.2,0.3,0.4,0.5,0.6,0.7,0.8,0.9,1],"labelExpr":"datum.value == 0.2 ? '0.2' : datum.value == 0.5 ? '0.5' : datum.value == 1 ? '1.' : ''","labelFlush":true,"tickSize":-7,"labelPadding":32,"title":"Energy (keV)","titlePadding":11}},
    "y":{"field":"v","type":"quantitative","scale":{"type":"log","domain":[0.0000005,1],"nice":false},"axis":{"values":[0.000001,0.00001,0.0001,0.001,0.01,0.1],"labels":false,"tickSize":-12,"title":null}}}},
  {"data":{"values":[{"e":0.5,"v":0.12,"t":"Model spectrum"}]},"mark":{"type":"text","align":"left","baseline":"middle","fontSize":20,"color":"#111"},
   "encoding":{"x":{"field":"e","type":"quantitative","axis":null},"y":{"field":"v","type":"quantitative","axis":null},"text":{"field":"t"}}},
  {"data":{"name":"msun"},"mark":{"type":"point","opacity":0},
   "encoding":{"x":{"field":"e","type":"quantitative","axis":{"orient":"top","values":[0.2,0.3,0.4,0.5,0.6,0.7,0.8,0.9,1],"labels":false,"tickSize":-7,"title":null}},"y":{"field":"v","type":"quantitative","axis":{"orient":"right","values":[0.000001,0.00001,0.0001,0.001,0.01,0.1],"labels":false,"tickSize":-12,"title":null}}}}
 ],
 "resolve":{"axis":{"x":"independent","y":"independent"}}
}
]
}
